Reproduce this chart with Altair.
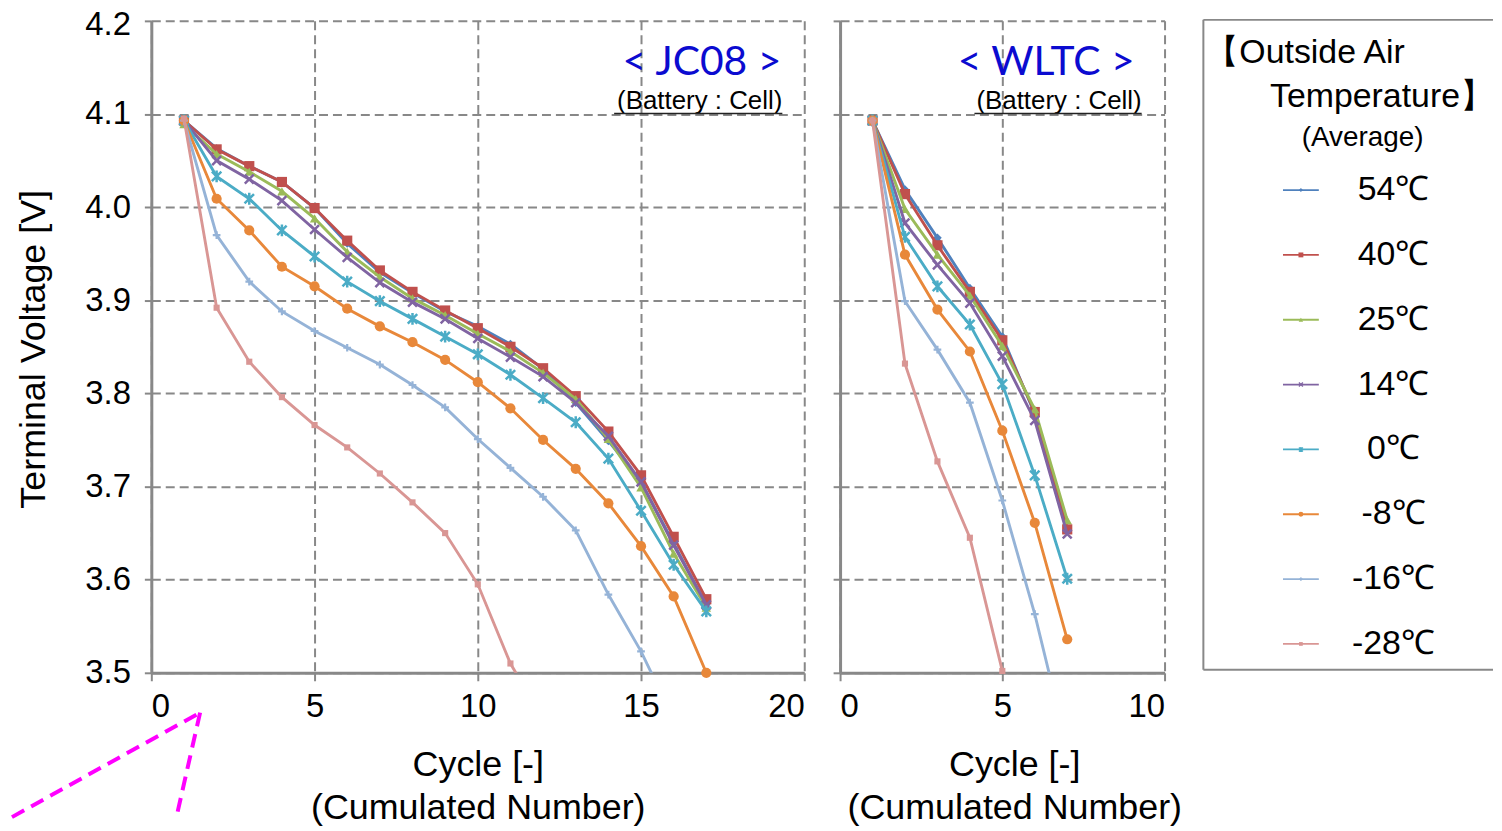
import altair as alt
import pandas as pd

# ---------------- data ----------------
temps = ["54℃", "40℃", "25℃", "14℃", "0℃", "-8℃", "-16℃", "-28℃"]
colors = ["#4F81BD", "#C0504D", "#9BBB59", "#8064A2", "#4BACC6", "#E8883A", "#95B3D7", "#D99694"]

jc08_54 = [4.093, 4.063, 4.044, 4.027, 3.999, 3.961, 3.930, 3.908, 3.888, 3.872, 3.853, 3.826, 3.790, 3.749, 3.705, 3.639, 3.573]
jc08_40 = [4.093, 4.062, 4.044, 4.027, 3.999, 3.964, 3.932, 3.909, 3.889, 3.870, 3.850, 3.827, 3.797, 3.759, 3.712, 3.646, 3.579]
jc08_25 = [4.089, 4.057, 4.038, 4.017, 3.988, 3.952, 3.925, 3.902, 3.884, 3.864, 3.845, 3.822, 3.794, 3.751, 3.699, 3.628, 3.570]
jc08_14 = [4.093, 4.050, 4.030, 4.007, 3.976, 3.946, 3.919, 3.898, 3.880, 3.859, 3.839, 3.818, 3.790, 3.754, 3.705, 3.637, 3.573]
jc08_0 = [4.093, 4.033, 4.009, 3.975, 3.947, 3.920, 3.899, 3.880, 3.861, 3.842, 3.820, 3.795, 3.769, 3.730, 3.674, 3.616, 3.566]
jc08_m8 = [4.093, 4.009, 3.975, 3.936, 3.915, 3.891, 3.872, 3.855, 3.836, 3.812, 3.784, 3.750, 3.719, 3.682, 3.636, 3.582, 3.500]
jc08_m16 = [4.093, 3.970, 3.920, 3.888, 3.867, 3.849, 3.831, 3.809, 3.785, 3.751, 3.720, 3.689, 3.653, 3.584, 3.523, 3.450]
jc08_m28 = [4.095, 3.892, 3.834, 3.796, 3.766, 3.742, 3.714, 3.683, 3.650, 3.595, 3.510, 3.450]

wltc_54 = [4.093, 4.019, 3.967, 3.913, 3.861, 3.778, 3.655]
wltc_40 = [4.093, 4.014, 3.959, 3.909, 3.857, 3.780, 3.654]
wltc_25 = [4.093, 3.998, 3.949, 3.905, 3.851, 3.783, 3.664]
wltc_14 = [4.093, 3.983, 3.938, 3.897, 3.840, 3.771, 3.649]
wltc_0 = [4.093, 3.968, 3.915, 3.874, 3.810, 3.712, 3.601]
wltc_m8 = [4.093, 3.949, 3.890, 3.845, 3.760, 3.661, 3.536]
wltc_m16 = [4.093, 3.899, 3.847, 3.790, 3.685, 3.563, 3.420]
wltc_m28 = [4.093, 3.832, 3.727, 3.645, 3.502]

jc08_series = [jc08_54, jc08_40, jc08_25, jc08_14, jc08_0, jc08_m8, jc08_m16, jc08_m28]
wltc_series = [wltc_54, wltc_40, wltc_25, wltc_14, wltc_0, wltc_m8, wltc_m16, wltc_m28]

y_ticks = [3.5, 3.6, 3.7, 3.8, 3.9, 4.0, 4.1, 4.2]
jc08_xticks = [0, 5, 10, 15, 20]
wltc_xticks = [0, 5, 10]

# ---------------- styles ----------------
FONT = "Liberation Sans"
GRID = "#888888"
X_PATH = "M-1,-1L1,1M1,-1L-1,1"
STAR_PATH = "M-1,-1L1,1M1,-1L-1,1M0,-1.25L0,1.25"
PLUS_PATH = "M-1,0L1,0M0,-1L0,1"
marker = [
    dict(shape="diamond", filled=True, size=75),
    dict(shape="square", filled=True, size=105),
    dict(shape="triangle-up", filled=True, size=90),
    dict(shape=X_PATH, filled=False, size=80, strokeWidth=2.5),
    dict(shape=STAR_PATH, filled=False, size=90, strokeWidth=2.5),
    dict(shape="circle", filled=True, size=105),
    dict(shape=PLUS_PATH, filled=False, size=60, strokeWidth=2.2),
    dict(shape="square", filled=True, size=38),
]
leg_marker = [
    dict(shape="diamond", filled=True, size=16),
    dict(shape="square", filled=True, size=24),
    dict(shape="triangle-up", filled=True, size=20),
    dict(shape=X_PATH, filled=False, size=16, strokeWidth=1.4),
    dict(shape=STAR_PATH, filled=False, size=16, strokeWidth=1.4),
    dict(shape="circle", filled=True, size=24),
    dict(shape=PLUS_PATH, filled=False, size=14, strokeWidth=1.2),
    dict(shape="square", filled=True, size=14),
]

H = 655
one = pd.DataFrame({"a": [0]})


def panel(series, xmax, xticks, width, name, name_x, sub_x, ul_x1, title_x, left_axis):
    rows = []
    for t, vs in zip(temps, series):
        for i, v in enumerate(vs):
            rows.append({"temp": t, "cycle": i + 1, "v": v})
    df = pd.DataFrame(rows)

    xenc = alt.X(
        "cycle:Q",
        scale=alt.Scale(domain=[0, xmax], nice=False, zero=False),
        axis=alt.Axis(
            values=xticks, format="d", grid=True, gridDash=[9, 5], gridColor=GRID, gridWidth=2,
            domainColor=GRID, domainWidth=3, tickColor=GRID, tickWidth=2, tickSize=8,
            labelFontSize=33, labelPadding=26, labelBaseline="middle", labelColor="black", labelFont=FONT,
            title=["Cycle [-]", "(Cumulated Number)"], titleFontSize=36, titleFontWeight="normal",
            titleFont=FONT, titleColor="black", titleLineHeight=43, titleBaseline="middle",
            titleX=title_x, titleY=92,
        ),
    )
    if left_axis:
        yaxis = alt.Axis(
            values=y_ticks, format=".1f", grid=True, gridDash=[9, 5], gridColor=GRID, gridWidth=2,
            domainColor=GRID, domainWidth=3, tickColor=GRID, tickWidth=2, tickSize=7,
            labelFontSize=33, labelPadding=14, labelColor="black", labelFont=FONT,
            labelOffset={"condition": {"test": "datum.value >= 4.19", "value": 4}, "value": 0},
            title="Terminal Voltage [V]", titleFontSize=36, titleFontWeight="normal", titleFont=FONT,
            titleColor="black", titleBaseline="middle", titleX=-118, titleY=H / 2 + 2,
        )
    else:
        yaxis = alt.Axis(
            values=y_ticks, grid=True, gridDash=[9, 5], gridColor=GRID, gridWidth=2,
            domainColor=GRID, domainWidth=3, tickColor=GRID, tickWidth=2, tickSize=7,
            labels=False, title="",
        )
    yenc = alt.Y("v:Q", scale=alt.Scale(domain=[3.5, 4.2], nice=False, zero=False), axis=yaxis)

    layers = []
    for i, t in enumerate(temps):
        base = alt.Chart(df).transform_filter(alt.datum.temp == t)
        layers.append(
            base.mark_line(color=colors[i], strokeWidth=2.9, clip=True).encode(x=xenc, y=yenc)
        )
        m = marker[i]
        layers.append(
            base.transform_filter(alt.datum.v >= 3.499)
            .mark_point(color=colors[i], opacity=1, **m)
            .encode(x=xenc, y=yenc)
        )
    layers.append(
        alt.Chart(one).mark_text(text=name, font="Lato", fontSize=41, color="#0B0BD0",
                                 align="right", baseline="middle")
        .encode(x=alt.value(name_x), y=alt.value(42))
    )
    layers.append(
        alt.Chart(one).mark_text(text="(Battery : Cell)", font=FONT, fontSize=26, color="black",
                                 align="right", baseline="middle")
        .encode(x=alt.value(sub_x), y=alt.value(81))
    )
    layers.append(
        alt.Chart(one).mark_rule(color="#222222", strokeWidth=1.5)
        .encode(x=alt.value(ul_x1), x2=alt.value(sub_x), y=alt.value(93))
    )
    if left_axis:
        # magenta dashed call-out lines below the axis
        layers.append(
            alt.Chart(one).mark_rule(color="#FF00FF", strokeWidth=4, strokeDash=[14, 8])
            .encode(x=alt.value(-140), y=alt.value(800), x2=alt.value(49), y2=alt.value(695))
        )
        layers.append(
            alt.Chart(one).mark_rule(color="#FF00FF", strokeWidth=4, strokeDash=[14, 8])
            .encode(x=alt.value(49), y=alt.value(695), x2=alt.value(25), y2=alt.value(801))
        )
    return alt.layer(*layers).properties(width=width, height=H)


left = panel(jc08_series, 20, jc08_xticks, 656, "< JC08 >", 633, 634, 465, 328, True)
right = panel(wltc_series, 10, wltc_xticks, 326, "< WLTC >", 296, 303, 135, 175, False)

# ---------------- custom legend panel ----------------
leg_df = pd.DataFrame({"temp": temps, "k": list(range(len(temps)))})
ly = alt.Y("k:Q", scale=alt.Scale(domain=[0, 7], range=[170, 626], nice=False, zero=False), axis=None)

leg_layers = [
    alt.Chart(one).mark_rule(color=GRID, strokeWidth=2)
    .encode(x=alt.value(3), y=alt.value(-1), y2=alt.value(652)),
    alt.Chart(one).mark_rule(color=GRID, strokeWidth=2)
    .encode(x=alt.value(3), x2=alt.value(294), y=alt.value(-1)),
    alt.Chart(one).mark_rule(color=GRID, strokeWidth=2)
    .encode(x=alt.value(3), x2=alt.value(294), y=alt.value(652)),
    alt.Chart(one).mark_text(text="【Outside Air", font=FONT, fontSize=34, align="left",
                             baseline="middle", color="black")
    .encode(x=alt.value(5), y=alt.value(32)),
    alt.Chart(one).mark_text(text="Temperature】", font=FONT, fontSize=34, align="left",
                             baseline="middle", color="black")
    .encode(x=alt.value(70), y=alt.value(77)),
    alt.Chart(one).mark_text(text="(Average)", font=FONT, fontSize=28, align="center",
                             baseline="middle", color="black")
    .encode(x=alt.value(163), y=alt.value(118)),
]
for i, t in enumerate(temps):
    b = alt.Chart(leg_df).transform_filter(alt.datum.temp == t)
    leg_layers.append(
        b.mark_rule(color=colors[i], strokeWidth=1.8)
        .encode(x=alt.value(83), x2=alt.value(119), y=ly)
    )
    leg_layers.append(
        b.mark_point(color=colors[i], opacity=1, **leg_marker[i])
        .encode(x=alt.value(101), y=ly)
    )
leg_layers.append(
    alt.Chart(leg_df).mark_text(font=FONT, fontSize=34, align="center", baseline="middle", color="black")
    .encode(x=alt.value(194), y=ly, text="temp:N")
)
legend = alt.layer(*leg_layers).properties(width=290, height=H)

chart = (
    alt.hconcat(left, right, legend, spacing=36, bounds="flush")
    .properties(padding={"left": 2, "top": -1, "right": 0, "bottom": 0})
    .configure(font=FONT)
    .configure_view(stroke="transparent", strokeWidth=0)
)

chart.save("out.html", embed_options={"renderer": "svg", "actions": False})
